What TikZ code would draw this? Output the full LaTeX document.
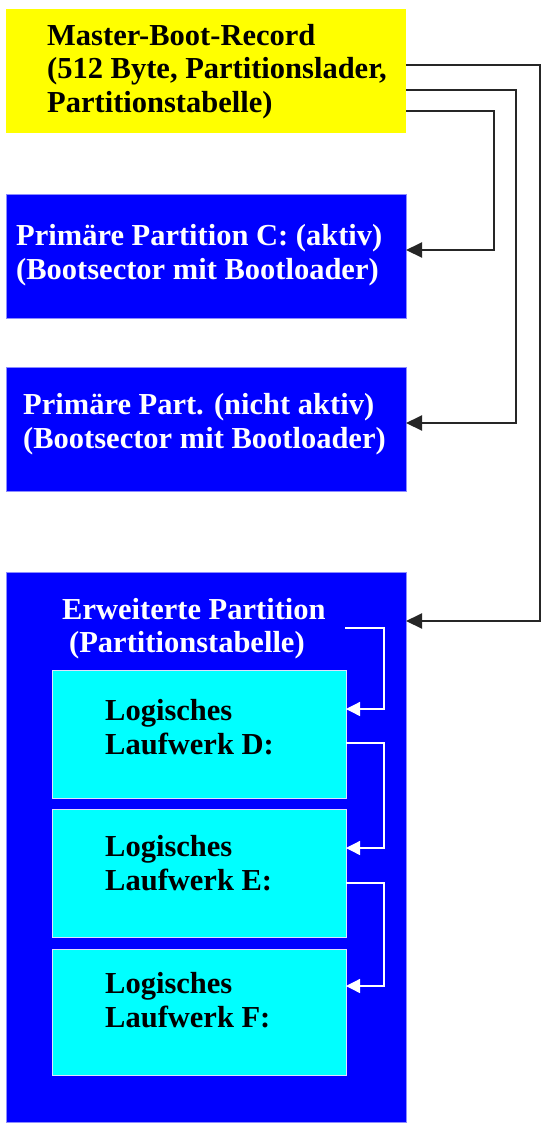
\documentclass[tikz,border=0pt]{standalone}
\usepackage{fontspec}
\setmainfont{Liberation Serif}
\usetikzlibrary{arrows.meta}
\definecolor{mbryellow}{RGB}{255,255,0}
\definecolor{partblue}{RGB}{0,0,255}
\definecolor{drivecyan}{RGB}{0,255,255}
\begin{document}
\begin{tikzpicture}[x=1pt,y=-1pt,
  box/.style={anchor=north west, inner sep=0pt, outer sep=0pt},
  mbrbox/.style={box, fill=mbryellow},
  partbox/.style={box, fill=partblue, draw=partblue!45!white, line width=0.8pt},
  drivebox/.style={box, fill=drivecyan, draw=white!88!blue, line width=1pt},
  lbl/.style={anchor=base west, inner sep=0pt, font=\fontsize{30.5}{34}\selectfont\bfseries},
  blk/.style={lbl, text=black},
  wht/.style={lbl, text=white},
  conn/.style={draw=black!85, line width=2pt, -{Triangle[length=16pt,width=15pt]}},
  wconn/.style={draw=white, line width=1.3pt, -{Triangle[length=14pt,width=14pt]}},
]
\useasboundingbox[fill=white] (0,0) rectangle (541,1128);

% boxes
\node[mbrbox, minimum width=400pt, minimum height=124pt] (mbr) at (6,9) {};
\node[partbox, minimum width=400pt, minimum height=124pt] (p1) at (6,194) {};
\node[partbox, minimum width=400pt, minimum height=124pt] (p2) at (6,367) {};
\node[partbox, minimum width=400pt, minimum height=550pt] (ext) at (6,572) {};
\node[drivebox, minimum width=294pt, minimum height=128pt] (d) at (52,670) {};
\node[drivebox, minimum width=294pt, minimum height=128pt] (e) at (52,809) {};
\node[drivebox, minimum width=294pt, minimum height=126pt] (f) at (52,949) {};

% texts
\node[blk] (mbr1) at (47,45) {Master-Boot-Record};
\node[blk] (mbr2) at (47,78.5) {(512 Byte, Partitionslader,};
\node[blk] (mbr3) at (47,112) {Partitionstabelle)};

\node[wht] (p1a) at (16,245) {Primäre Partition C: (aktiv)};
\node[wht] (p1b) at (16,279) {(Bootsector mit Bootloader)};

\node[wht] (p2a) at (23,414) {Primäre Part. (nicht aktiv)};
\node[wht] (p2b) at (23,448) {(Bootsector mit Bootloader)};

\node[wht] (exta) at (62,619) {Erweiterte Partition};
\node[wht] (extb) at (69,652) {(Partitionstabelle)};

\node[blk] (da) at (105,720) {Logisches};
\node[blk] (db) at (105,754) {Laufwerk D:};
\node[blk] (ea) at (105,856) {Logisches};
\node[blk] (eb) at (105,890) {Laufwerk E:};
\node[blk] (fa) at (105,993) {Logisches};
\node[blk] (fb) at (105,1027) {Laufwerk F:};

% connectors from the MBR
\draw[conn] (mbr.east |- 0,65) -- (540,65) -- (540,621) -- (ext.east |- 0,621);
\draw[conn] (mbr.east |- 0,90) -| (516,423) -- (p2.east |- 0,423);
\draw[conn] (mbr.east |- 0,111) -| (494,250) -- (p1.east |- 0,250);

% chain of logical drives
\coordinate (exttab) at (345,628);
\draw[wconn] (exttab) -| (384,709) -- (d.east |- 0,709);
\draw[wconn] (d.east |- 0,743) -| (384,848) -- (e.east |- 0,848);
\draw[wconn] (e.east |- 0,883) -| (384,986) -- (f.east |- 0,986);
\end{tikzpicture}
\end{document}
